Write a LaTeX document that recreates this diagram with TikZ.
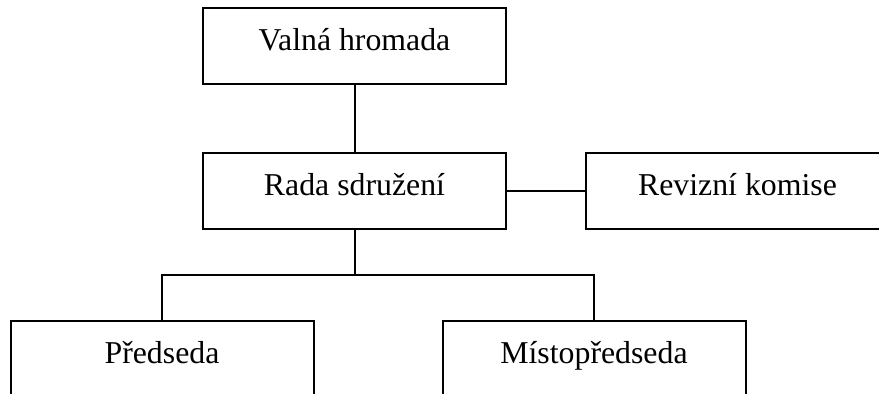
\documentclass[tikz,border=0pt]{standalone}
\usepackage{fontspec}
\setmainfont{Liberation Serif}
\usetikzlibrary{positioning}

\tikzset{
  orgbox/.style={draw, rectangle, line width=1pt, minimum width=151.5pt,
    inner xsep=0pt, inner ysep=0pt, text height=21.5pt, text depth=16.5pt,
    font=\fontsize{15.9}{19}\selectfont},
  orgline/.style={line width=1pt}
}

\begin{document}
\begin{tikzpicture}[x=0.5pt,y=-0.5pt]
  % Fix the page and cut the boxes that run off it
  \useasboundingbox (0,0) rectangle (879,394);
  \clip (0,0) rectangle (879,394);

  % Draw the boxes
  \node[orgbox] (valna) at (354.5,46) {Valná hromada};
  \node[orgbox] (rada) at (354.5,191) {Rada sdružení};
  \node[orgbox] (revize) at (737.5,191) {Revizní komise};
  \node[orgbox] (predseda) at (162,359) {Předseda};
  \node[orgbox] (misto) at (594,359) {Místopředseda};

  % Draw the connectors
  \draw[orgline] (valna) -- (rada);
  \draw[orgline] (rada) -- (revize);
  \draw[orgline] (rada.south) -- ++(0,45) coordinate (fork);
  \draw[orgline] (fork) -| (predseda.north);
  \draw[orgline] (fork) -| (misto.north);
\end{tikzpicture}
\end{document}
